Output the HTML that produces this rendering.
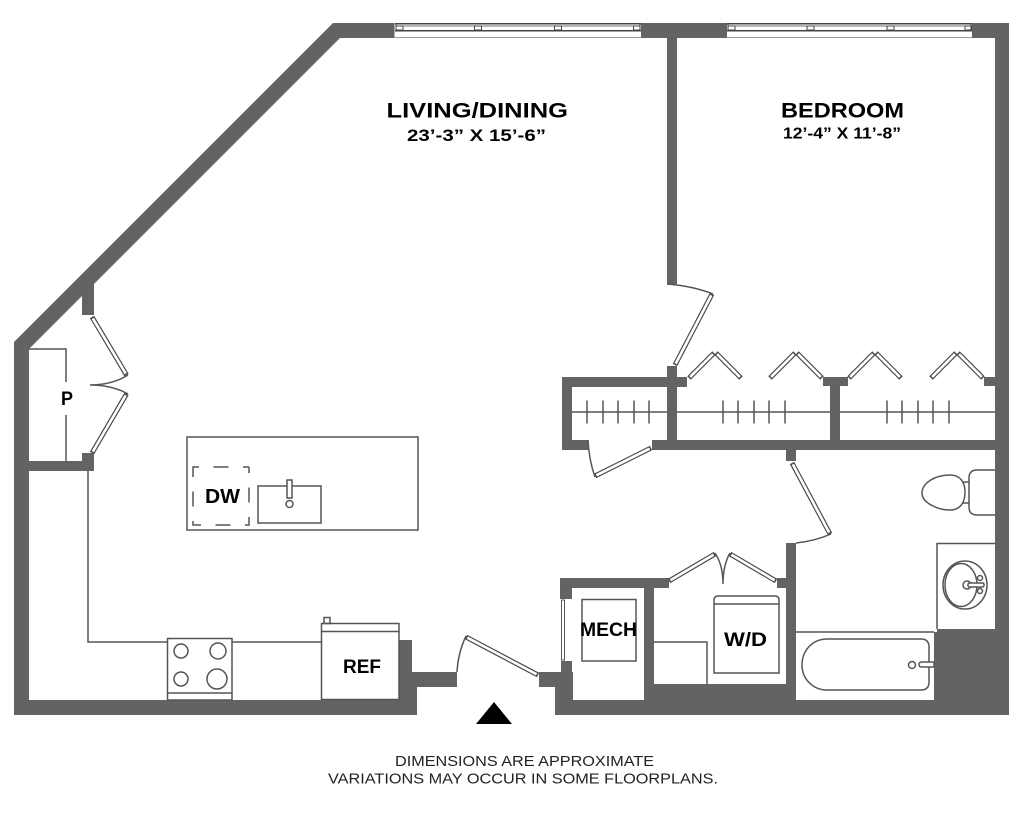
<!DOCTYPE html>
<html><head><meta charset="utf-8"><style>
html,body{margin:0;padding:0;background:#fff;width:1024px;height:822px;overflow:hidden}
svg{display:block}
.l{fill:none;stroke:#555;stroke-width:1.5}
.f{fill:#fff;stroke:#555;stroke-width:1.5}
.pd{stroke:#4a4a4a;stroke-width:5;stroke-linecap:butt;fill:none}
.pw{stroke:#fff;stroke-width:2.6;stroke-linecap:butt;fill:none}
text{font-family:"Liberation Sans",sans-serif;fill:#000}
.b{font-weight:bold}
.ft{fill:#222}
</style></head><body>
<svg width="1024" height="822" viewBox="0 0 1024 822" xmlns="http://www.w3.org/2000/svg">
<rect width="1024" height="822" fill="#fff"/>
<!-- walls -->
<g fill="#636363">
<polygon points="14,342 333,23 340,23 340,38 29,349 29,360 14,360"/>
<rect x="333" y="23" width="676" height="15"/>
<rect x="14" y="342" width="15" height="373"/>
<rect x="14" y="700" width="403" height="15"/>
<rect x="995" y="23" width="14" height="692"/>
<polygon points="82,285 94,273 94,315 82,315"/>
<rect x="29" y="461" width="65" height="10"/>
<rect x="82" y="453" width="12" height="18"/>
<rect x="399" y="640" width="13" height="60"/>
<rect x="400" y="672" width="57" height="15"/>
<rect x="400" y="687" width="17" height="28"/>
<rect x="539" y="672" width="22" height="15"/>
<rect x="555" y="672" width="18" height="43"/>
<rect x="561" y="661" width="11" height="20"/>
<rect x="560" y="578" width="109" height="10"/>
<rect x="560" y="578" width="12" height="21"/>
<rect x="644" y="588" width="10" height="112"/>
<rect x="555" y="700" width="454" height="15"/>
<rect x="644" y="684" width="152" height="16"/>
<rect x="786" y="543" width="10" height="172"/>
<rect x="777" y="578" width="9" height="10"/>
<rect x="934" y="632" width="75" height="83"/>
<rect x="937" y="629" width="72" height="4"/>
<rect x="667" y="38" width="10" height="246"/>
<rect x="667" y="366" width="10" height="84"/>
<rect x="562" y="377" width="125" height="10"/>
<rect x="562" y="377" width="10" height="73"/>
<rect x="562" y="440" width="26" height="10"/>
<rect x="652" y="440" width="343" height="10"/>
<rect x="786" y="450" width="10" height="11"/>
<rect x="830" y="386" width="10" height="54"/>
<rect x="823" y="377" width="25" height="9"/>
<rect x="984" y="377" width="11" height="9"/>
</g>
<!-- windows -->
<g>
<rect x="394.500" y="23" width="246.500" height="15" fill="#fff"/>
<rect x="727" y="23" width="245" height="15" fill="#fff"/>
<g stroke="#444" fill="none">
<path d="M395 23.700H641M395 30.800H641M727 23.700H972M727 30.800H972" stroke-width="1.500"/>
<path d="M395 37.500H641M727 37.500H972" stroke="#999" stroke-width="1"/>
<path d="M396 26H640M728 26H971" stroke-width=".8"/>
<path d="M396 24V30M640 24V30M728 24V30M971 24V30" stroke-width="1"/>
<rect x="396" y="26" width="7" height="4"/><rect x="474.500" y="26" width="7" height="4"/><rect x="554.500" y="26" width="7" height="4"/><rect x="633.500" y="26" width="6.500" height="4"/>
<rect x="728" y="26" width="7" height="4"/><rect x="807" y="26" width="7" height="4"/><rect x="887" y="26" width="7" height="4"/><rect x="965" y="26" width="6.500" height="4"/>
</g>
</g>
<!-- door panels -->
<g class="pd">
<line x1="92" y1="317" x2="126.500" y2="375"/><line x1="92" y1="453" x2="126.500" y2="394"/>
<line x1="712" y1="294" x2="675" y2="365"/>
<line x1="651" y1="448" x2="595" y2="476"/>
<line x1="792" y1="463" x2="830" y2="534"/>
<line x1="466" y1="637" x2="538" y2="675"/>
<line x1="669" y1="581" x2="715" y2="554"/><line x1="730" y1="554" x2="776" y2="581"/>
<line x1="689" y1="378" x2="714" y2="353"/><line x1="716" y1="353" x2="741" y2="378"/>
<line x1="770" y1="378" x2="795" y2="353"/><line x1="797" y1="353" x2="822" y2="378"/>
<line x1="849" y1="378" x2="874" y2="353"/><line x1="876" y1="353" x2="901" y2="378"/>
<line x1="931" y1="378" x2="956" y2="353"/><line x1="958" y1="353" x2="983" y2="378"/>
</g>
<g class="pw">
<line x1="92.800" y1="318.400" x2="125.700" y2="373.600"/><line x1="92.800" y1="451.600" x2="125.700" y2="395.400"/>
<line x1="711.300" y1="295.400" x2="675.700" y2="363.600"/>
<line x1="649.600" y1="448.700" x2="596.400" y2="475.300"/>
<line x1="792.800" y1="464.400" x2="829.200" y2="532.600"/>
<line x1="467.400" y1="637.700" x2="536.600" y2="674.300"/>
<line x1="670.400" y1="580.200" x2="713.600" y2="554.800"/><line x1="731.400" y1="554.800" x2="774.600" y2="580.200"/>
<line x1="690.100" y1="376.900" x2="712.900" y2="354.100"/><line x1="717.100" y1="354.100" x2="739.900" y2="376.900"/>
<line x1="771.100" y1="376.900" x2="793.900" y2="354.100"/><line x1="798.100" y1="354.100" x2="820.900" y2="376.900"/>
<line x1="850.100" y1="376.900" x2="872.900" y2="354.100"/><line x1="877.100" y1="354.100" x2="899.900" y2="376.900"/>
<line x1="932.100" y1="376.900" x2="954.900" y2="354.100"/><line x1="959.100" y1="354.100" x2="981.900" y2="376.900"/>
</g>
<rect x="561.500" y="600" width="3" height="60" fill="#fff" stroke="#555" stroke-width="1"/>
<!-- door arcs -->
<g class="l">
<path d="M128 375Q112 385 90 385Q112 385 128 394"/>
<path d="M667 284Q693 286 713 294"/>
<path d="M588 440Q589 460 595 477"/>
<path d="M831 534Q815 541 796 543"/>
<path d="M457 672Q458 653 466 636"/>
<path d="M715 553Q723 565 723 584Q723 565 730 553"/>
</g>
<!-- pantry -->
<path class="l" d="M29 349H66V382M66 415V461"/>
<!-- counter -->
<path class="l" d="M88 471V642H167M232 642H321"/>
<rect class="f" x="167.500" y="638.500" width="64.500" height="61.500"/>
<line class="l" x1="167" y1="693" x2="232" y2="693"/>
<circle class="l" cx="181" cy="651" r="7"/><circle class="l" cx="218" cy="651" r="8"/><circle class="l" cx="181" cy="679" r="7"/><circle class="l" cx="217" cy="679" r="10"/>
<rect class="f" x="321.500" y="623.500" width="77.500" height="76"/>
<line class="l" x1="321" y1="631.500" x2="399" y2="631.500"/>
<rect class="l" x="324" y="617.500" width="6" height="6"/>
<!-- island -->
<rect class="l" x="187" y="437" width="231" height="93"/>
<rect x="193" y="467" width="56" height="58" fill="none" stroke="#555" stroke-width="1.500" stroke-dasharray="6 14.500 15 14.500 6 0"/>
<rect class="l" x="258" y="486" width="63" height="37"/>
<rect class="f" x="287" y="480" width="5" height="18"/>
<circle class="f" cx="289.500" cy="504" r="3.500"/>
<!-- rods -->
<path class="l" d="M572 412H667M677 412H830M840 412H995"/>
<path class="l" d="M587 400.500V423.500M603 400.500V423.500M618 400.500V423.500M634 400.500V423.500M649 400.500V423.500M723 400.500V423.500M738 400.500V423.500M754 400.500V423.500M769 400.500V423.500M785 400.500V423.500M887 400.500V423.500M902 400.500V423.500M918 400.500V423.500M933 400.500V423.500M949 400.500V423.500"/>
<!-- mech -->
<rect class="l" x="582" y="599.500" width="54" height="61.500"/>
<!-- laundry -->
<path class="l" d="M654 642H707V684"/>
<path class="l" d="M714 673V600Q714 596 718 596H775Q779 596 779 600V673Z"/>
<line class="l" x1="714" y1="604" x2="779" y2="604"/>
<!-- toilet -->
<path class="l" d="M995 470H977Q969 470 969 478V507Q969 515 977 515H995"/>
<path class="l" d="M963 482H969M963 503H969"/>
<path class="l" d="M922 493C922 483 935 475 950 475C960 475 965 482 965 492C965 503 960 510 950 510C938 510 922 503 922 493Z"/>
<!-- vanity -->
<path class="l" d="M937 629V543.500H995"/>
<ellipse class="l" cx="965" cy="585" rx="22" ry="24"/>
<ellipse class="l" cx="961" cy="585" rx="16" ry="21.500"/>
<circle class="f" cx="967" cy="585" r="4"/>
<rect class="f" x="968" y="583" width="16" height="4" rx="1.500"/>
<circle class="f" cx="980" cy="578" r="2.500"/><circle class="f" cx="980" cy="591" r="2.500"/>
<!-- bath -->
<line class="l" x1="796" y1="632" x2="934" y2="632"/>
<path class="l" d="M827 639H921Q929 639 929 647V682Q929 690 921 690H827C813 690 802 679 802 665C802 650 813 639 827 639Z"/>
<circle class="f" cx="912" cy="665" r="3.500"/>
<path d="M934 662H922Q919 662 919 664.500Q919 667 922 667H934Z" fill="#fff" stroke="#555" stroke-width="1.500"/>
<!-- entry -->
<polygon points="476,724 512,724 494,702" fill="#000"/>
<!-- labels -->
<text class="b" x="386.500" y="117.500" font-size="21.500" textLength="181.500" lengthAdjust="spacingAndGlyphs">LIVING/DINING</text>
<text class="b" x="407" y="141" font-size="16.500" textLength="139" lengthAdjust="spacingAndGlyphs">23’-3” X 15’-6”</text>
<text class="b" x="781" y="117.500" font-size="21.500" textLength="123" lengthAdjust="spacingAndGlyphs">BEDROOM</text>
<text class="b" x="783" y="138.500" font-size="16" textLength="118" lengthAdjust="spacingAndGlyphs">12’-4” X 11’-8”</text>
<text class="b" x="61" y="405" font-size="19.500" textLength="12" lengthAdjust="spacingAndGlyphs">P</text>
<text class="b" x="205" y="503" font-size="20" textLength="35" lengthAdjust="spacingAndGlyphs">DW</text>
<text class="b" x="580" y="636" font-size="19.500" textLength="57" lengthAdjust="spacingAndGlyphs">MECH</text>
<text class="b" x="343" y="673" font-size="19.500" textLength="38" lengthAdjust="spacingAndGlyphs">REF</text>
<text class="b" x="724" y="646" font-size="19.500" textLength="43" lengthAdjust="spacingAndGlyphs">W/D</text>
<text class="ft" x="395" y="766" font-size="14.500" textLength="259" lengthAdjust="spacingAndGlyphs">DIMENSIONS ARE APPROXIMATE</text>
<text class="ft" x="328" y="783.500" font-size="14.500" textLength="390" lengthAdjust="spacingAndGlyphs">VARIATIONS MAY OCCUR IN SOME FLOORPLANS.</text>
</svg>
</body></html>
